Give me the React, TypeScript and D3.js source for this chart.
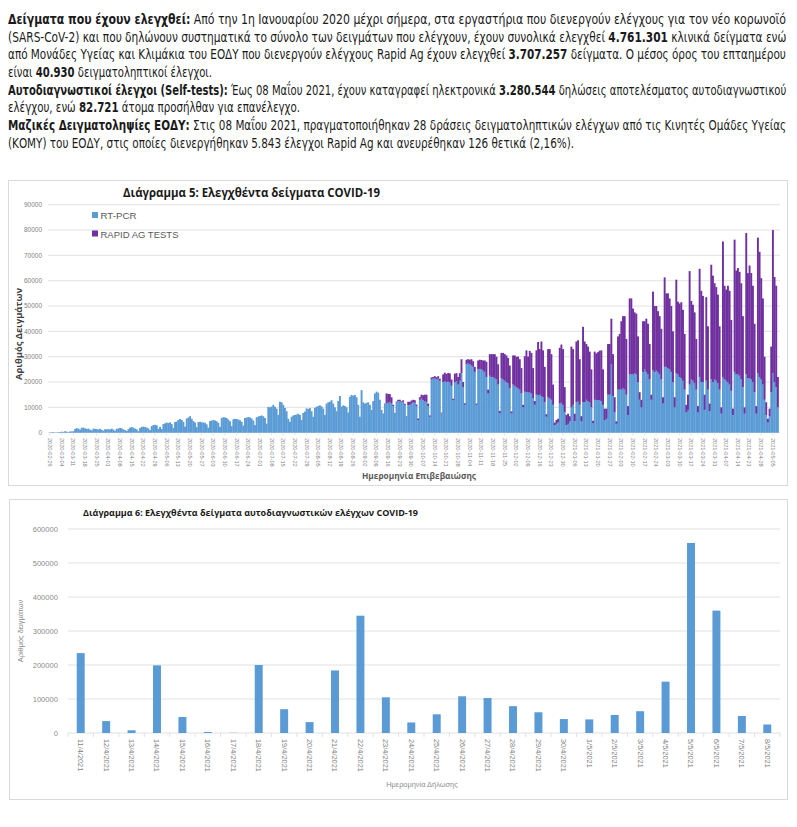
import React, { useLayoutEffect, useRef, useState } from "react";
import * as d3 from "d3";

// ---------- Intro paragraph ----------
const introLines: [string, boolean][][] = [
  [["Δείγματα που έχουν ελεγχθεί:", true], [" Από την 1η Ιανουαρίου 2020 μέχρι σήμερα, στα εργαστήρια που διενεργούν ελέγχους για τον νέο κορωνοϊό", false]],
  [["(SARS-CoV-2) και που δηλώνουν συστηματικά το σύνολο των δειγμάτων που ελέγχουν, έχουν συνολικά ελεγχθεί ", false], ["4.761.301", true], [" κλινικά δείγματα ενώ", false]],
  [["από Μονάδες Υγείας και Κλιμάκια του ΕΟΔΥ που διενεργούν ελέγχους Rapid Ag έχουν ελεγχθεί ", false], ["3.707.257", true], [" δείγματα. Ο μέσος όρος του επταημέρου", false]],
  [["είναι ", false], ["40.930", true], [" δειγματοληπτικοί έλεγχοι.", false]],
  [["Αυτοδιαγνωστικοί έλεγχοι (Self-tests):", true], [" Έως 08 Μαΐου 2021, έχουν καταγραφεί ηλεκτρονικά ", false], ["3.280.544", true], [" δηλώσεις αποτελέσματος αυτοδιαγνωστικού", false]],
  [["ελέγχου, ενώ ", false], ["82.721", true], [" άτομα προσήλθαν για επανέλεγχο.", false]],
  [["Μαζικές Δειγματοληψίες ΕΟΔΥ:", true], [" Στις 08 Μαΐου 2021, πραγματοποιήθηκαν 28 δράσεις δειγματοληπτικών ελέγχων από τις Κινητές Ομάδες Υγείας", false]],
  [["(ΚΟΜΥ) του ΕΟΔΥ, στις οποίες διενεργήθηκαν 5.843 έλεγχοι Rapid Ag και ανευρέθηκαν 126 θετικά (2,16%).", false]],
];
const introWidths = [778, 778, 778, 204, 778, 292, 778, 566];

// ---------- Chart 5: daily samples (thousands), weeks Wed..Tue from 2020-02-26 ----------
const startDate = new Date(2020, 1, 26);
const pcrWeeksK: number[][] = [
  [0.1, 0.2, 0.2, 0.1, 0.1, 0.2, 0.3],
  [0.4, 0.3, 0.6, 0.4, 0.2, 0.5, 0.5],
  [0.6, 1.5, 1.8, 1.6, 1.2, 1.9, 2.0],
  [1.7, 1.5, 1.6, 1.2, 0.9, 1.6, 1.5],
  [1.4, 1.3, 1.5, 1.1, 0.8, 1.4, 1.3],
  [1.4, 1.3, 1.6, 1.2, 0.8, 1.5, 1.7],
  [1.9, 1.7, 1.3, 1.0, 0.7, 1.4, 2.0],
  [2.2, 2.0, 1.6, 1.3, 0.6, 1.8, 2.3],
  [2.4, 2.2, 2.0, 1.7, 1.0, 2.6, 3.0],
  [3.1, 2.9, 1.5, 2.3, 1.5, 3.4, 3.7],
  [4.0, 3.8, 4.1, 3.4, 1.9, 4.2, 4.4],
  [5.0, 5.4, 5.0, 4.3, 2.4, 5.6, 6.0],
  [6.5, 5.5, 4.6, 4.0, 2.2, 4.2, 4.3],
  [4.1, 4.0, 3.9, 3.3, 2.0, 4.6, 4.8],
  [5.0, 4.8, 4.5, 3.9, 2.3, 5.8, 6.1],
  [6.0, 5.8, 5.2, 4.5, 2.6, 5.3, 5.5],
  [5.4, 5.2, 4.9, 4.3, 2.8, 5.8, 6.0],
  [6.2, 6.0, 5.6, 4.8, 3.0, 6.1, 6.4],
  [6.6, 6.8, 6.5, 5.8, 3.6, 10.2, 10.0],
  [10.3, 11.0, 10.2, 9.5, 7.0, 12.2, 12.0],
  [11.0, 9.8, 8.5, 5.5, 4.3, 6.3, 6.8],
  [7.0, 7.2, 7.5, 7.0, 5.0, 7.8, 8.3],
  [9.6, 9.4, 9.7, 8.5, 6.3, 9.8, 10.3],
  [10.5, 10.8, 10.4, 9.5, 7.0, 11.5, 12.0],
  [12.2, 12.8, 11.5, 10.0, 8.5, 12.5, 14.5],
  [10.3, 10.8, 10.5, 10.0, 8.0, 14.2, 14.9],
  [14.6, 14.9, 14.0, 11.0, 6.3, 16.8, 12.0],
  [11.5, 11.8, 12.0, 11.0, 9.0, 12.5, 15.5],
  [16.2, 15.8, 13.0, 9.0, 7.6, 11.6, 11.6],
  [11.8, 12.2, 11.5, 10.5, 7.6, 12.0, 12.5],
  [12.5, 12.0, 12.2, 11.0, 6.5, 10.9, 11.0],
  [11.5, 12.0, 11.8, 10.5, 5.0, 13.0, 13.5],
  [12.8, 12.5, 12.0, 10.5, 6.3, 21.0, 21.4],
  [21.5, 21.0, 21.3, 20.5, 7.6, 20.0, 20.3],
  [20.0, 20.2, 19.8, 18.5, 12.9, 20.0, 20.3],
  [19.0, 20.5, 23.4, 18.0, 11.0, 27.0, 27.5],
  [27.0, 26.5, 26.0, 24.0, 11.0, 25.0, 25.2],
  [25.0, 24.5, 24.0, 22.0, 15.5, 22.5, 22.0],
  [22.0, 21.5, 21.0, 19.0, 7.6, 21.5, 21.0],
  [20.5, 20.0, 19.5, 17.5, 7.6, 19.0, 18.5],
  [18.0, 17.5, 17.0, 15.5, 10.0, 16.2, 16.0],
  [16.0, 15.8, 15.5, 13.5, 11.0, 15.0, 14.8],
  [15.0, 14.5, 14.0, 12.0, 6.3, 14.0, 13.5],
  [13.0, 11.0, 3.0, 3.5, 4.0, 11.5, 11.8],
  [11.0, 8.0, 3.0, 3.5, 4.5, 10.0, 11.0],
  [4.5, 12.0, 12.5, 11.0, 4.5, 12.0, 12.0],
  [13.0, 12.5, 12.0, 10.0, 3.7, 13.0, 12.8],
  [12.8, 12.9, 12.5, 11.0, 5.0, 5.5, 15.0],
  [15.0, 27.0, 14.5, 8.0, 3.5, 17.0, 17.0],
  [17.0, 17.5, 17.0, 15.0, 7.0, 23.0, 23.0],
  [23.0, 23.5, 23.0, 20.0, 13.0, 10.0, 24.0],
  [25.0, 24.0, 23.0, 21.0, 13.0, 24.7, 24.0],
  [24.5, 24.0, 23.0, 21.0, 11.5, 26.0, 26.0],
  [25.5, 25.0, 24.0, 20.0, 10.0, 23.5, 23.0],
  [22.0, 21.5, 20.5, 17.0, 8.0, 9.0, 19.0],
  [21.0, 20.5, 19.5, 17.0, 8.0, 22.0, 20.0],
  [20.0, 9.0, 20.5, 17.0, 8.5, 21.0, 20.0],
  [21.0, 20.5, 19.5, 17.0, 7.5, 22.0, 21.0],
  [20.5, 20.0, 19.0, 16.5, 7.0, 24.0, 23.0],
  [23.0, 22.5, 21.0, 18.0, 7.5, 23.0, 21.5],
  [21.5, 21.0, 20.0, 16.0, 7.5, 23.5, 22.0],
  [21.0, 19.0, 13.0, 7.0, 4.0, 6.5, 16.0],
  [23.5, 20.0, 18.0, 10.0],
];
const rapidFirstWeek = 28;
const rapidWeeksK: number[][] = [
  [0, 0, 0, 0, 0, 0, 3.9],
  [3.5, 3.0, 2.5, 0.5, 0.2, 0.3, 0.5],
  [0.5, 0.4, 0.6, 0.4, 0.1, 1.3, 1.2],
  [1.2, 1.0, 1.0, 0.6, 0.6, 1.0, 1.5],
  [2.0, 2.5, 3.0, 1.0, 0.5, 0.8, 0.6],
  [0.8, 0.9, 1.0, 0.8, 0.3, 3.0, 3.4],
  [3.2, 3.4, 3.6, 2.5, 0.5, 3.3, 3.2],
  [3.0, 3.0, 5.6, 2.0, 0.6, 1.8, 1.5],
  [1.8, 2.5, 2.2, 2.0, 0.5, 3.5, 3.6],
  [3.7, 4.0, 4.5, 6.0, 1.5, 8.5, 9.0],
  [9.0, 9.5, 9.0, 8.0, 1.0, 10.0, 10.5],
  [10.5, 10.5, 10.0, 9.0, 0.8, 11.5, 12.0],
  [12.0, 12.5, 12.0, 10.0, 1.0, 14.0, 16.5],
  [14.0, 16.5, 16.0, 12.0, 1.5, 17.5, 21.0],
  [18.0, 21.5, 18.5, 14.0, 1.0, 19.0, 19.5],
  [18.0, 8.0, 1.0, 1.5, 1.5, 22.0, 23.0],
  [22.0, 10.0, 4.0, 4.0, 2.0, 24.0, 22.0],
  [3.0, 24.0, 24.0, 18.0, 2.0, 29.8, 24.0],
  [22.0, 21.5, 20.0, 15.0, 1.0, 19.0, 18.5],
  [19.0, 19.5, 20.0, 14.0, 4.5, 4.0, 20.0],
  [20.0, 18.0, 16.5, 6.0, 1.0, 21.0, 22.0],
  [27.0, 28.5, 29.0, 22.0, 3.5, 30.0, 30.0],
  [26.0, 24.0, 24.0, 18.0, 3.0, 3.0, 20.0],
  [19.0, 21.0, 20.0, 14.0, 2.0, 31.0, 26.0],
  [25.5, 24.0, 23.0, 20.0, 2.5, 35.3, 29.0],
  [29.5, 28.0, 26.0, 20.0, 4.0, 36.9, 28.7],
  [29.0, 30.0, 28.0, 22.0, 3.0, 6.0, 44.8],
  [31.0, 30.0, 28.0, 20.0, 2.5, 42.7, 36.0],
  [34.0, 6.0, 33.0, 25.0, 3.0, 45.3, 42.0],
  [38.0, 37.0, 35.0, 25.0, 2.5, 53.5, 37.0],
  [36.0, 38.0, 37.0, 28.0, 2.5, 52.2, 41.0],
  [42.0, 41.0, 38.0, 28.0, 2.5, 55.8, 41.5],
  [44.5, 42.0, 38.0, 27.0, 3.0, 53.5, 49.4],
  [40.0, 34.0, 17.0, 5.0, 1.5, 3.0, 18.0],
  [56.5, 41.5, 40.0, 12.0],
];
const yTicks5 = [0, 10000, 20000, 30000, 40000, 50000, 60000, 70000, 80000, 90000];
const legend5 = [
  { name: "RT-PCR", color: "#5B9BD5" },
  { name: "RAPID AG TESTS", color: "#7030A0" },
];

// ---------- Chart 6: self-tests ----------
const selfCats = [
  "11/4/2021", "12/4/2021", "13/4/2021", "14/4/2021", "15/4/2021", "16/4/2021", "17/4/2021",
  "18/4/2021", "19/4/2021", "20/4/2021", "21/4/2021", "22/4/2021", "23/4/2021", "24/4/2021",
  "25/4/2021", "26/4/2021", "27/4/2021", "28/4/2021", "29/4/2021", "30/4/2021", "1/5/2021",
  "2/5/2021", "3/5/2021", "4/5/2021", "5/5/2021", "6/5/2021", "7/5/2021", "8/5/2021",
];
const selfValues = [
  235000, 35000, 8000, 199000, 47000, 3000, 500, 200000, 70000, 32000, 184000, 345000, 105000, 31000,
  55000, 108000, 103000, 79000, 61000, 41000, 40000, 53000, 64000, 151000, 559000, 360000, 50000, 25000,
];
const yTicks6 = [0, 100000, 200000, 300000, 400000, 500000, 600000];

const para = "'Liberation Sans Narrow', 'DejaVu Sans Condensed', 'Liberation Sans', sans-serif";
const ui = "'Open Sans', 'Liberation Sans', sans-serif";
const lib = "'Liberation Sans', Arial, sans-serif";

function FitLine({ x, y, width, segs }: { x: number; y: number; width: number; segs: [string, boolean][] }) {
  const ref = useRef<SVGTextElement>(null);
  const [sx, setSx] = useState(0.85);
  useLayoutEffect(() => {
    if (ref.current) {
      const w = ref.current.getComputedTextLength();
      if (w > 0) setSx(width / w);
    }
  }, [width]);
  return (
    <text ref={ref} transform={`translate(${x},${y}) scale(${sx},1)`} fontFamily={para} fontSize={13.5} fill="#1a1a1a">
      {segs.map((s, k) => (
        <tspan key={k} fontWeight={s[1] ? 700 : 400}>{s[0]}</tspan>
      ))}
    </text>
  );
}

export default function App() {
  const pcr = pcrWeeksK.flat().map((v) => v * 1000);
  const rapidFlat = rapidWeeksK.flat().map((v) => v * 1000);
  const rapid = pcr.map((_, i) => {
    const j = i - rapidFirstWeek * 7;
    return j >= 0 && j < rapidFlat.length ? rapidFlat[j] : 0;
  });
  const n = pcr.length;
  const dates = d3.range(n).map((i) => d3.timeDay.offset(startDate, i));
  const fmt = d3.timeFormat("%Y-%m-%d");

  const x5 = d3.scaleBand<number>().domain(d3.range(n)).range([49.2, 778.6]).padding(0);
  const y5 = d3.scaleLinear().domain([0, 90000]).range([432.7, 204.7]);
  const bw = x5.bandwidth();

  const x6 = d3.scaleBand<string>().domain(selfCats).range([68, 780]).paddingInner(0.687).paddingOuter(0.3435);
  const y6 = d3.scaleLinear().domain([0, 600000]).range([733, 529]);
  const step6 = x6.step();

  return (
    <svg width={797} height={827} style={{ position: "absolute", left: 0, top: 0, display: "block", background: "#fff" }}>
      <rect x={0} y={0} width={797} height={827} fill="#fff" />
      {/* Intro paragraph */}
      {introLines.map((segs, i) => (
        <FitLine key={i} x={8} y={23.8 + 17.7 * i} width={introWidths[i]} segs={segs} />
      ))}

      {/* ---------- Chart 5 ---------- */}
      <rect x={8.5} y={180.5} width={779} height={305} fill="#fff" stroke="#d9d9d9" />
      <text x={251.5} y={196.5} textAnchor="middle" fontFamily={ui} fontWeight={700} fontSize={11.5} fill="#1a1a1a"
        textLength={257} lengthAdjust="spacingAndGlyphs">Διάγραμμα 5: Ελεγχθέντα δείγματα COVID-19</text>
      {yTicks5.map((t) => (
        <g key={t}>
          <line x1={48} x2={780} y1={y5(t)} y2={y5(t)} stroke="#d9d9d9" strokeWidth={0.8} />
          <text x={42} y={y5(t)} dy="0.35em" textAnchor="end" fontFamily={lib} fontSize={6.5} fill="#7f7f7f">{t}</text>
        </g>
      ))}
      {pcr.map((v, i) => (
        <rect key={"p" + i} x={x5(i)!} width={bw + 0.25} y={y5(v)} height={y5(0) - y5(v)} fill="#5B9BD5" />
      ))}
      {rapid.map((v, i) =>
        v > 0 ? (
          <rect key={"r" + i} x={x5(i)!} width={bw + 0.25} y={y5(pcr[i] + v)} height={y5(pcr[i]) - y5(pcr[i] + v)} fill="#7030A0" />
        ) : null
      )}
      {dates.map((d, i) =>
        i % 7 === 0 ? (
          <g key={"t" + i}>
            <line x1={x5(i)! + bw / 2} x2={x5(i)! + bw / 2} y1={432.7} y2={435.5} stroke="#d9d9d9" strokeWidth={0.6} />
            <text transform={`translate(${x5(i)! + bw / 2},438) rotate(90)`} dy="0.35em" fontFamily={lib} fontSize={5.6} fill="#7f7f7f">{fmt(d)}</text>
          </g>
        ) : null
      )}
      {legend5.map((l, i) => (
        <g key={l.name}>
          <rect x={92} y={212 + 18.5 * i} width={6} height={6} fill={l.color} />
          <text x={100.5} y={219.3 + 18.5 * i} fontFamily={lib} fontSize={9.5} fill="#595959"
            textLength={i === 0 ? 36 : 78} lengthAdjust="spacingAndGlyphs">{l.name}</text>
        </g>
      ))}
      <text transform="translate(22,334) rotate(-90)" textAnchor="middle" fontFamily={ui} fontWeight={700} fontSize={8.8} fill="#404040"
        textLength={92} lengthAdjust="spacingAndGlyphs">Αριθμός Δειγμάτων</text>
      <text x={419} y={478.5} textAnchor="middle" fontFamily={ui} fontWeight={700} fontSize={8.6} fill="#595959"
        textLength={114} lengthAdjust="spacingAndGlyphs">Ημερομηνία Επιβεβαιώσης</text>

      {/* ---------- Chart 6 ---------- */}
      <rect x={9.5} y={499.5} width={778} height={300} fill="#fff" stroke="#d9d9d9" />
      <text x={83} y={515.5} fontFamily={ui} fontWeight={700} fontSize={9.3} fill="#1a1a1a"
        textLength={335} lengthAdjust="spacingAndGlyphs">Διάγραμμα 6: Ελεγχθέντα δείγματα αυτοδιαγνωστικών ελέγχων COVID-19</text>
      {yTicks6.map((t) => (
        <g key={t}>
          <line x1={68} x2={780} y1={y6(t)} y2={y6(t)} stroke="#d9d9d9" strokeWidth={0.8} />
          <text x={58} y={y6(t)} dy="0.35em" textAnchor="end" fontFamily={lib} fontSize={7.6} fill="#8c8c8c">{t}</text>
        </g>
      ))}
      {selfCats.map((c, i) => (
        <line key={"k" + c} x1={68 + step6 * (i + 1)} x2={68 + step6 * (i + 1)} y1={733} y2={737} stroke="#d9d9d9" strokeWidth={0.8} />
      ))}
      <line x1={68} x2={68} y1={733} y2={737} stroke="#d9d9d9" strokeWidth={0.8} />
      {selfCats.map((c, i) => (
        <rect key={c} x={x6(c)!} width={x6.bandwidth()} y={y6(selfValues[i])} height={y6(0) - y6(selfValues[i])} fill="#5B9BD5" />
      ))}
      {selfCats.map((c) => (
        <text key={"l" + c} transform={`translate(${x6(c)! + x6.bandwidth() / 2},739) rotate(90)`} dy="0.35em"
          fontFamily={lib} fontSize={7.4} fill="#7f7f7f">{c}</text>
      ))}
      <text transform="translate(23,631) rotate(-90)" textAnchor="middle" fontFamily={lib} fontSize={7.4} fill="#8c8c8c">Αριθμός δειγμάτων</text>
      <text x={422} y={787} textAnchor="middle" fontFamily={lib} fontSize={7.4} fill="#8c8c8c">Ημερομηνία Δήλωσης</text>
    </svg>
  );
}
